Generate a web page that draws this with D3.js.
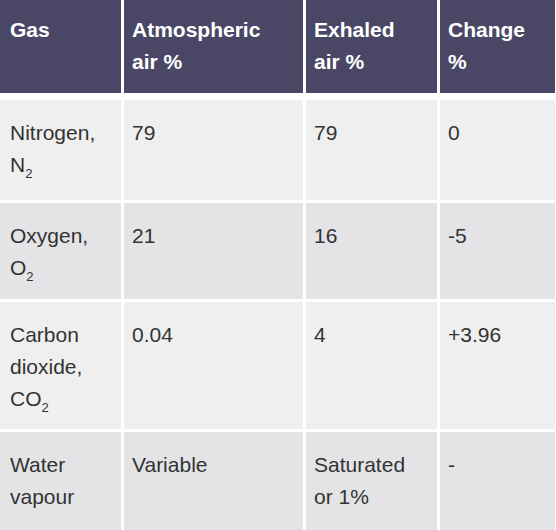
<!DOCTYPE html><html><head><script src="https://d3js.org/d3.v7.min.js"></script>
<style>body{margin:0;background:#fff}</style></head><body><svg id="c" width="556" height="530"></svg>
<script>
const headers=[["Gas"],["Atmospheric","air %"],["Exhaled","air %"],["Change","%"]];
const gasNames=[["Nitrogen,",["N","2"]],["Oxygen,",["O","2"]],["Carbon","dioxide,",["CO","2"]],["Water","vapour"]];
const atmospheric=[["79"],["21"],["0.04"],["Variable"]];
const exhaled=[["79"],["16"],["4"],["Saturated","or 1%"]];
const change=[["0"],["-5"],["+3.96"],["-"]];
const colEdges=[0,122,304,438,556];
const rowEdges=[0,97,200,299,429,530];
const svg=d3.select("#c");
const font="'Liberation Sans', Arial, sans-serif";
const lh=32;
function draw(r,lines,bold,fill){
  const x0=colEdges[r.c]+10, y0=rowEdges[r.r]+37+(r.r>0?6:0);
  lines.forEach((ln,i)=>{
    const t=svg.append("text").attr("x",x0).attr("y",y0+i*lh).attr("font-family",font)
      .attr("font-size",21).attr("font-weight",bold?"bold":"normal").attr("fill",fill);
    if(Array.isArray(ln)){t.append("tspan").text(ln[0]);t.append("tspan").attr("font-size",13).attr("dy",6).text(ln[1]);}
    else t.text(ln);
  });
}
const rowFill=["#4a4766","#efefef","#e4e4e6","#efefef","#e4e4e6"];
for(let r=0;r<5;r++)for(let c=0;c<4;c++){
  svg.append("rect").attr("x",colEdges[c]+(c>0?2:0)).attr("y",rowEdges[r]+(r>0?3:0))
   .attr("width",colEdges[c+1]-colEdges[c]-(c>0?2:0)-1).attr("height",rowEdges[r+1]-rowEdges[r]-(r>0?3:0)-(r==0?4:0))
   .attr("fill",rowFill[r]);
}
headers.forEach((h,c)=>draw({r:0,c},h,true,"#fff"));
const cols=[gasNames,atmospheric,exhaled,change];
cols.forEach((col,c)=>col.forEach((v,i)=>draw({r:i+1,c},v,false,"#333")));
</script></body></html>
